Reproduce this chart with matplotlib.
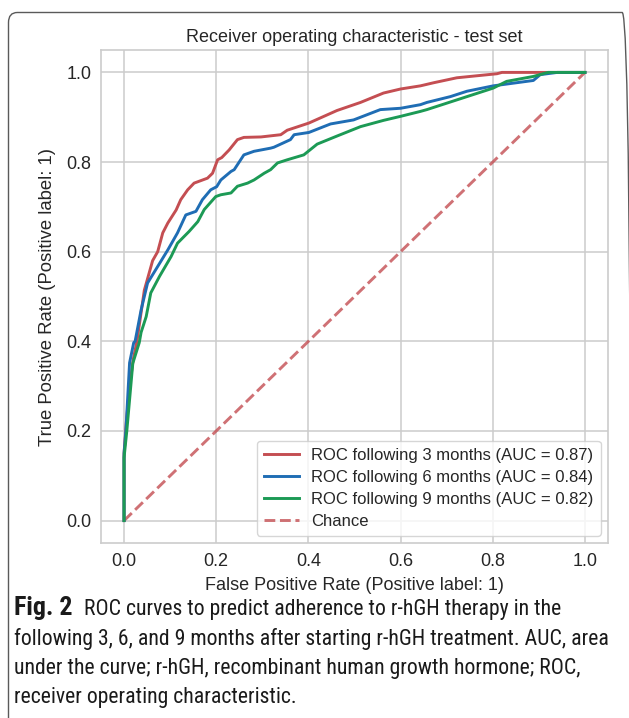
import matplotlib
matplotlib.use("Agg")
import matplotlib.pyplot as plt
from matplotlib.patches import FancyBboxPatch
from matplotlib import font_manager

# ---------------- data ----------------
fpr_3m = [0, 0, 0.005, 0.012, 0.02, 0.028, 0.044, 0.062, 0.073, 0.084, 0.095, 0.113, 0.123, 0.138,
          0.152, 0.181, 0.192, 0.203, 0.212, 0.228, 0.246, 0.26, 0.297, 0.34, 0.354, 0.401, 0.462,
          0.513, 0.563, 0.6, 0.643, 0.672, 0.722, 0.809, 0.82, 1.0]
tpr_3m = [0, 0.15, 0.22, 0.3, 0.36, 0.40, 0.514, 0.58, 0.60, 0.642, 0.664, 0.693, 0.716, 0.738,
          0.753, 0.764, 0.775, 0.805, 0.81, 0.827, 0.85, 0.855, 0.856, 0.861, 0.871, 0.887, 0.915,
          0.933, 0.954, 0.963, 0.97, 0.977, 0.988, 0.997, 1.0, 1.0]

fpr_6m = [0, 0, 0.004, 0.012, 0.021, 0.024, 0.037, 0.051, 0.073, 0.095, 0.116, 0.134, 0.156, 0.17,
          0.188, 0.201, 0.21, 0.232, 0.239, 0.26, 0.282, 0.318, 0.325, 0.361, 0.369, 0.401, 0.448,
          0.498, 0.556, 0.6, 0.643, 0.657, 0.708, 0.744, 0.801, 0.888, 0.903, 0.94, 1.0]
tpr_6m = [0, 0.15, 0.2, 0.352, 0.397, 0.4, 0.47, 0.53, 0.567, 0.604, 0.642, 0.682, 0.69, 0.716,
          0.738, 0.745, 0.760, 0.779, 0.783, 0.816, 0.824, 0.831, 0.833, 0.85, 0.861, 0.866, 0.885,
          0.894, 0.917, 0.92, 0.928, 0.933, 0.946, 0.958, 0.97, 0.982, 0.995, 1.0, 1.0]

fpr_9m = [0, 0, 0.006, 0.019, 0.033, 0.037, 0.048, 0.058, 0.077, 0.102, 0.116, 0.141, 0.16, 0.174,
          0.199, 0.21, 0.232, 0.246, 0.268, 0.282, 0.304, 0.318, 0.333, 0.354, 0.39, 0.419, 0.462,
          0.513, 0.563, 0.6, 0.643, 0.657, 0.744, 0.801, 0.83, 0.888, 0.92, 1.0]
tpr_9m = [0, 0.14, 0.2, 0.351, 0.397, 0.42, 0.455, 0.508, 0.545, 0.589, 0.619, 0.645, 0.667, 0.694,
          0.723, 0.727, 0.731, 0.746, 0.753, 0.76, 0.775, 0.783, 0.798, 0.805, 0.816, 0.84, 0.858,
          0.879, 0.893, 0.902, 0.913, 0.917, 0.946, 0.965, 0.98, 0.991, 1.0, 1.0]

chance_x = [0, 1]
chance_y = [0, 1]

labels = ["ROC following 3 months (AUC = 0.87)",
          "ROC following 6 months (AUC = 0.84)",
          "ROC following 9 months (AUC = 0.82)",
          "Chance"]
ticks = [0.0, 0.2, 0.4, 0.6, 0.8, 1.0]
title = "Receiver operating characteristic - test set"
xlabel = "False Positive Rate (Positive label: 1)"
ylabel = "True Positive Rate (Positive label: 1)"
caption_bold = "Fig. 2"
caption_lines = [
    "ROC curves to predict adherence to r-hGH therapy in the",
    "following 3, 6, and 9 months after starting r-hGH treatment. AUC, area",
    "under the curve; r-hGH, recombinant human growth hormone; ROC,",
    "receiver operating characteristic.",
]

# ---------------- figure ----------------
W, H = 629, 718
DPI = 100
fig = plt.figure(figsize=(W / DPI, H / DPI), dpi=DPI)
fig.patch.set_facecolor("white")

def fx(px):
    return px / W

def fy(py):
    return 1 - py / H

# outer rounded border
border = FancyBboxPatch((fx(8.5), fy(760)), fx(631) - fx(8.5), fy(12.5) - fy(760),
                        boxstyle="round,pad=0,rounding_size=0.014",
                        transform=fig.transFigure, facecolor="none",
                        edgecolor="#5a5a5a", linewidth=1.0, clip_on=False)
fig.patches.append(border)

ax_l, ax_r, ax_t, ax_b = 101, 608, 50, 543
ax = fig.add_axes([fx(ax_l), fy(ax_b), fx(ax_r - ax_l), (ax_b - ax_t) / H])

chart_font = "Liberation Sans"
red = "#c44e52"
blue = "#1f6db4"
green = "#1c9a55"

ax.plot(fpr_3m, tpr_3m, color=red, lw=2.1, label=labels[0], zorder=3)
ax.plot(fpr_6m, tpr_6m, color=blue, lw=2.1, label=labels[1], zorder=3)
ax.plot(fpr_9m, tpr_9m, color=green, lw=2.1, label=labels[2], zorder=3)
ax.plot(chance_x, chance_y, color=red, lw=2.1, ls=(0, (3.7, 1.6)), alpha=0.8,
        label=labels[3], zorder=2)

ax.set_xlim(-0.05, 1.05)
ax.set_ylim(-0.05, 1.05)
ax.set_xticks(ticks)
ax.set_yticks(ticks)
ax.set_xticklabels([f"{t:.1f}" for t in ticks], fontfamily=chart_font, fontsize=13, color="#262626")
ax.set_yticklabels([f"{t:.1f}" for t in ticks], fontfamily=chart_font, fontsize=13, color="#262626")
ax.tick_params(length=0, pad=7)
ax.grid(True, color="#cccccc", lw=1.1)
ax.set_axisbelow(True)
for s in ax.spines.values():
    s.set_color("#cccccc")
    s.set_linewidth(1.2)

ax.set_title(title, fontfamily=chart_font, fontsize=13, color="#262626", pad=6)
ax.set_xlabel(xlabel, fontfamily=chart_font, fontsize=13, color="#262626", labelpad=5)
ax.set_ylabel(ylabel, fontfamily=chart_font, fontsize=13.3, color="#262626", labelpad=7)

leg = ax.legend(loc="lower right", prop={"family": chart_font, "size": 12},
                frameon=True, fancybox=True, framealpha=0.8, edgecolor="#cccccc",
                handlelength=2.15, handletextpad=0.72, borderpad=0.4, labelspacing=0.42,
                borderaxespad=0.45)
for t in leg.get_texts():
    t.set_color("#262626")

# ---------------- caption ----------------
def has_regular(name):
    for f in font_manager.fontManager.ttflist:
        if f.name == name and f.style == "normal":
            w = f.weight
            if isinstance(w, str):
                w = {"normal": 400, "regular": 400, "book": 400, "medium": 500}.get(w.lower(), 700)
            if 350 <= w <= 500:
                return True
    return False

cap_font = "Lato"
for cand in ["Liberation Sans Narrow", "Roboto Condensed", "Open Sans Condensed", "Lato"]:
    if has_regular(cand):
        cap_font = cand
        break

baselines = [615, 644.5, 674, 703.5]
renderer = fig.canvas.get_renderer()

# fit caption size so that line 2 spans from x=14 to x=611
size = 14
probe = fig.text(fx(14), fy(baselines[1]), caption_lines[1], fontfamily=cap_font,
                 fontsize=size, va="baseline", ha="left")
wpx = probe.get_window_extent(renderer).width
size = size * (611 - 14) / wpx
probe.remove()

# bold "Fig. 2", somewhat larger than the body text
bsize = size
probe = fig.text(fx(14), fy(baselines[0]), caption_bold, fontfamily=cap_font, fontweight="bold",
                 fontsize=bsize, va="baseline", ha="left")
bw = probe.get_window_extent(renderer).width
probe.remove()
bsize = min(bsize * (93 - 14) / bw, size * 1.2)

bold = fig.text(fx(14), fy(baselines[0]), caption_bold, fontfamily=cap_font, fontweight="bold",
                fontsize=bsize, va="baseline", ha="left", color="#1a1a1a")
bx = bold.get_window_extent(renderer).x1
fig.text(fx(bx + 12), fy(baselines[0]), caption_lines[0], fontfamily=cap_font,
         fontsize=size, va="baseline", ha="left", color="#1a1a1a")
for line, b in zip(caption_lines[1:], baselines[1:]):
    fig.text(fx(14), fy(b), line, fontfamily=cap_font, fontsize=size,
             va="baseline", ha="left", color="#1a1a1a")

fig.savefig("out.png", dpi=DPI)
